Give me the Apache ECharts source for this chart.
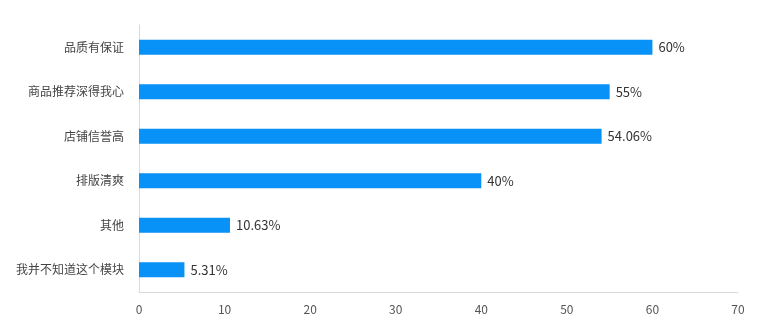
<!DOCTYPE html>
<html>
<head>
<meta charset="utf-8">
<script src="https://cdn.jsdelivr.net/npm/echarts@6/dist/echarts.min.js"></script>
<style>
  html, body { margin: 0; padding: 0; background: #fff; }
  #chart { width: 758px; height: 332px; }
</style>
</head>
<body>
<div id="chart"></div>
<script>
// Survey reasons, listed top to bottom
const categories = ['品质有保证', '商品推荐深得我心', '店铺信誉高', '排版清爽', '其他', '我并不知道这个模块'];
const shares = [60, 55, 54.06, 40, 10.63, 5.31];
const axisTicks = [0, 10, 20, 30, 40, 50, 60, 70];

const font = '"Noto Sans CJK SC", "Noto Sans", sans-serif';
const chart = echarts.init(document.getElementById('chart'), null, { renderer: 'canvas' });

chart.setOption({
  animation: false,
  backgroundColor: '#fff',
  grid: { left: 139, right: 20, top: 25, bottom: 40, containLabel: false },
  xAxis: {
    type: 'value',
    min: axisTicks[0],
    max: axisTicks[axisTicks.length - 1],
    interval: 10,
    axisLine: { show: true, lineStyle: { color: '#d9d9d9', width: 1 } },
    axisTick: { show: false },
    splitLine: { show: false },
    axisLabel: { color: '#555', fontSize: 12, fontFamily: font, margin: 11 }
  },
  yAxis: {
    type: 'category',
    inverse: true,
    data: categories,
    axisLine: { show: true, lineStyle: { color: '#d9d9d9', width: 1 } },
    axisTick: { show: false },
    axisLabel: { color: '#444', fontSize: 12, fontFamily: font, margin: 15 }
  },
  series: [{
    type: 'bar',
    data: shares,
    barWidth: 15,
    itemStyle: { color: '#0891f6' },
    label: {
      show: true,
      position: 'right',
      distance: 6,
      color: '#333',
      fontSize: 13,
      fontFamily: font,
      formatter: p => p.value + '%'
    }
  }]
});
</script>
</body>
</html>
